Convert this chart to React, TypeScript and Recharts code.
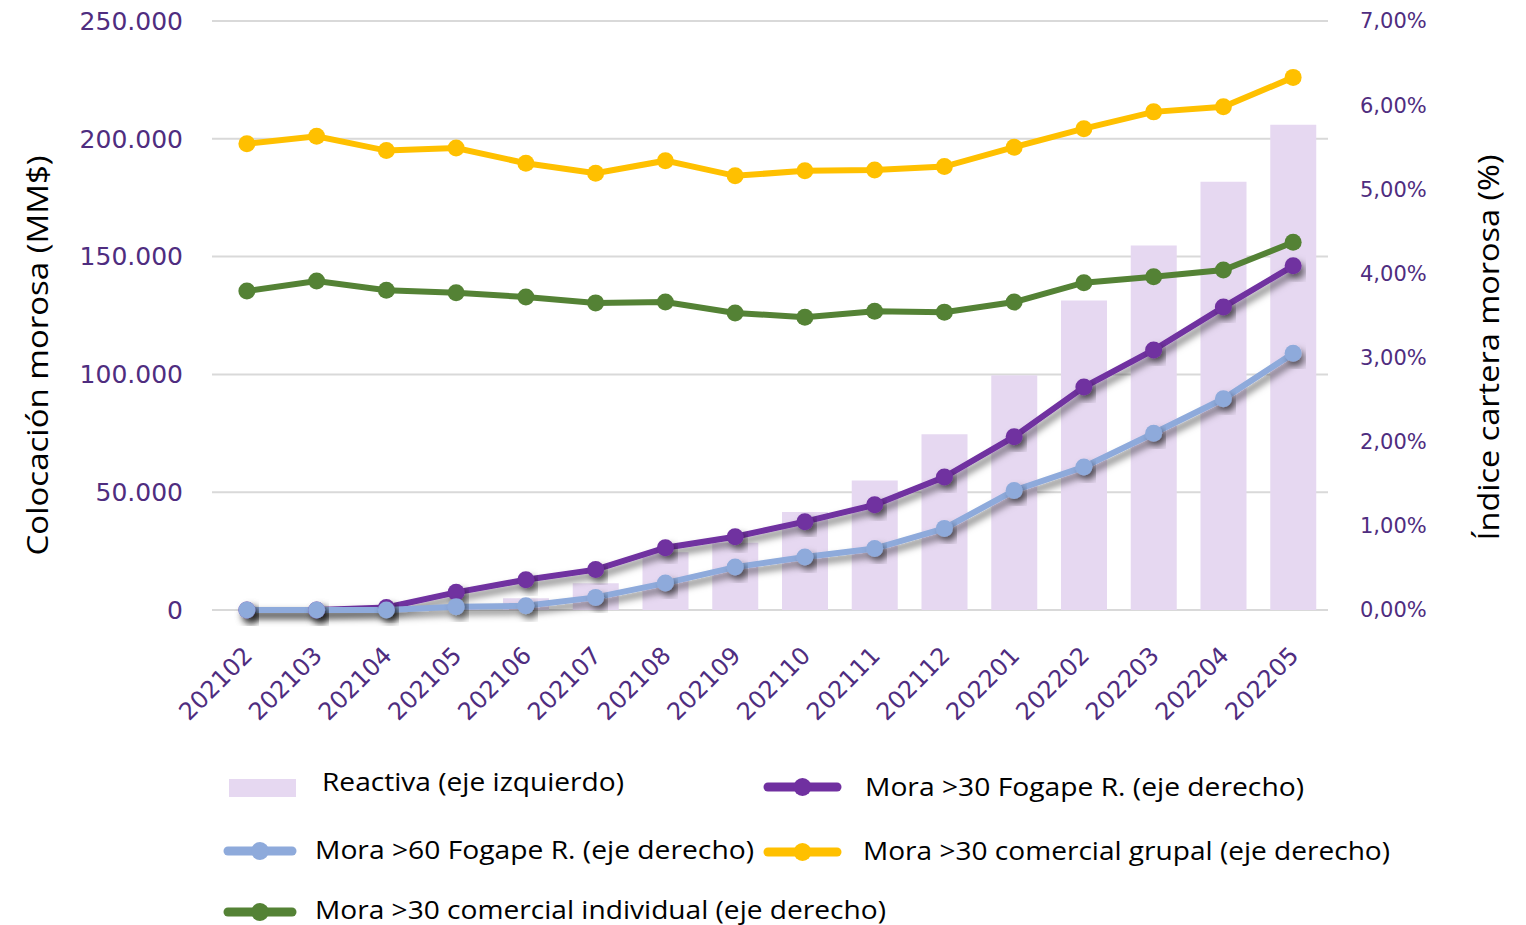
import React from 'react';
import { ComposedChart, Bar, Line, XAxis, YAxis, CartesianGrid, Legend } from 'recharts';

const categories = ['202102','202103','202104','202105','202106','202107','202108','202109','202110','202111','202112','202201','202202','202203','202204','202205'];
const reactiva = [0, 0, 0, 800, 5000, 11400, 24500, 28500, 41600, 55000, 74600, 99600, 131400, 154700, 181800, 206000];
const mora30Fogape = [0, 0, 0.03, 0.21, 0.36, 0.48, 0.74, 0.87, 1.05, 1.25, 1.58, 2.06, 2.65, 3.09, 3.60, 4.09];
const mora60Fogape = [0, 0, 0, 0.04, 0.05, 0.15, 0.32, 0.51, 0.63, 0.73, 0.97, 1.42, 1.70, 2.10, 2.51, 3.05];
const mora30Grupal = [5.54, 5.63, 5.46, 5.49, 5.31, 5.19, 5.34, 5.16, 5.22, 5.23, 5.27, 5.50, 5.72, 5.92, 5.98, 6.33];
const mora30Individual = [3.79, 3.91, 3.80, 3.77, 3.72, 3.65, 3.66, 3.53, 3.48, 3.55, 3.54, 3.66, 3.89, 3.96, 4.04, 4.37];

const leftTicks = [0, 50000, 100000, 150000, 200000, 250000];
const rightTicks = [0, 1, 2, 3, 4, 5, 6, 7];

const seriesNames = {
  reactiva: 'Reactiva (eje izquierdo)',
  m30f: 'Mora >30 Fogape R. (eje derecho)',
  m60f: 'Mora >60 Fogape R. (eje derecho)',
  m30g: 'Mora >30 comercial grupal (eje derecho)',
  m30i: 'Mora >30 comercial individual (eje derecho)',
};

const COLORS = {
  reactiva: '#E6D8F1',
  m30f: '#7030A0',
  m60f: '#8EAADB',
  m30g: '#FFC000',
  m30i: '#548235',
};

const TICK_COLOR = '#4F2D7F';

const data = categories.map((c, i) => ({
  cat: c,
  reactiva: reactiva[i],
  m30f: mora30Fogape[i],
  m60f: mora60Fogape[i],
  m30g: mora30Grupal[i],
  m30i: mora30Individual[i],
}));

const fmtLeft = (v: number) => (v === 0 ? '0' : v.toLocaleString('en-US').replace(/,/g, '.'));
const fmtRight = (v: number) => v.toFixed(2).replace('.', ',') + '%';

const XTick = (props: any) => {
  const { x, y, payload } = props;
  const ex = x + 7;
  const ey = y + 47;
  return (
    <text
      x={ex}
      y={ey}
      transform={`rotate(-45, ${ex}, ${ey})`}
      textAnchor="end"
      fill={TICK_COLOR}
      fontFamily="DejaVu Sans"
      fontSize={24}
    >
      {payload.value}
    </text>
  );
};

const LeftTitle = (props: any) => {
  const vb = props.viewBox || { x: 0, y: 0, width: 0, height: 0 };
  const cx = vb.x + 36;
  const cy = vb.y + vb.height / 2 + 40;
  return (
    <text
      x={cx}
      y={cy}
      transform={`rotate(-90, ${cx}, ${cy})`}
      textAnchor="middle"
      dominantBaseline="central"
      fontFamily="Open Sans"
      fontSize={30}
      fill="#000"
      textLength={400}
      lengthAdjust="spacingAndGlyphs"
    >
      Colocación morosa (MM$)
    </text>
  );
};

const RightTitle = (props: any) => {
  const vb = props.viewBox || { x: 0, y: 0, width: 0, height: 0 };
  const cx = vb.x + 159;
  const cy = vb.y + vb.height / 2 + 32;
  return (
    <text
      x={cx}
      y={cy}
      transform={`rotate(-90, ${cx}, ${cy})`}
      textAnchor="middle"
      dominantBaseline="central"
      fontFamily="Open Sans"
      fontSize={30}
      fill="#000"
      textLength={386}
      lengthAdjust="spacingAndGlyphs"
    >
      Índice cartera morosa (%)
    </text>
  );
};

const LegendContent = () => {
  const textProps = {
    fontFamily: 'Open Sans',
    fontSize: 25,
    fill: '#000',
    dominantBaseline: 'central' as const,
    lengthAdjust: 'spacingAndGlyphs' as const,
  };
  const lineSwatch = (x1: number, x2: number, y: number, color: string) => (
    <g>
      <line x1={x1} x2={x2} y1={y} y2={y} stroke={color} strokeWidth={9} strokeLinecap="round" />
      <circle cx={(x1 + x2) / 2} cy={y} r={9} fill={color} />
    </g>
  );
  const o = 740;
  return (
    <svg width={1526} height={185} style={{ display: 'block' }}>
      <rect x={229} y={779 - o} width={67} height={18} fill={COLORS.reactiva} />
      <text x={322} y={781 - o} {...textProps} textLength={302}>{seriesNames.reactiva}</text>

      {lineSwatch(768, 837, 787 - o, COLORS.m30f)}
      <text x={865} y={786 - o} {...textProps} textLength={439}>{seriesNames.m30f}</text>

      {lineSwatch(228, 292, 851 - o, COLORS.m60f)}
      <text x={315} y={849 - o} {...textProps} textLength={439}>{seriesNames.m60f}</text>

      {lineSwatch(768, 837, 852 - o, COLORS.m30g)}
      <text x={863} y={850 - o} {...textProps} textLength={527}>{seriesNames.m30g}</text>

      {lineSwatch(228, 292, 912 - o, COLORS.m30i)}
      <text x={315} y={909 - o} {...textProps} textLength={571}>{seriesNames.m30i}</text>
    </svg>
  );
};

export default function App() {
  return (
    <div style={{ position: 'absolute', left: 0, top: 0, width: 1526, height: 925, background: '#fff' }}>
      <ComposedChart
        width={1526}
        height={925}
        data={data}
        margin={{ top: 21, right: 0, bottom: 255, left: 0 }}
        barSize={46}
      >
        <defs>
          <filter id="shadow" x="-20%" y="-20%" width="140%" height="160%">
            <feDropShadow dx="4" dy="5" stdDeviation="3.5" floodColor="#000" floodOpacity="0.5" />
          </filter>
        </defs>
        <CartesianGrid yAxisId="left" vertical={false} stroke="#D9D9D9" strokeWidth={2} />
        <XAxis
          dataKey="cat"
          height={60}
          axisLine={false}
          tickLine={false}
          tickSize={0}
          tickMargin={0}
          interval={0}
          tick={<XTick />}
        />
        <YAxis
          yAxisId="left"
          orientation="left"
          width={212}
          domain={[0, 250000]}
          ticks={leftTicks}
          tickFormatter={fmtLeft}
          axisLine={false}
          tickLine={false}
          tickSize={0}
          tickMargin={29}
          tick={{ fill: TICK_COLOR, fontFamily: 'DejaVu Sans', fontSize: 25 }}
          label={<LeftTitle />}
        />
        <YAxis
          yAxisId="right"
          orientation="right"
          width={198}
          domain={[0, 7]}
          ticks={rightTicks}
          tickFormatter={fmtRight}
          axisLine={false}
          tickLine={false}
          tickSize={0}
          tickMargin={32}
          tick={{ fill: TICK_COLOR, fontFamily: 'DejaVu Sans', fontSize: 21 }}
          label={<RightTitle />}
        />
        <Legend
          layout="horizontal"
          verticalAlign="middle"
          align="center"
          wrapperStyle={{ position: 'absolute', left: 0, top: 740, width: 1526, height: 185 }}
          content={<LegendContent />}
        />
        <Bar yAxisId="left" dataKey="reactiva" name={seriesNames.reactiva} fill={COLORS.reactiva} isAnimationActive={false} />
        <Line
          yAxisId="right"
          dataKey="m30f"
          name={seriesNames.m30f}
          stroke={COLORS.m30f}
          strokeWidth={6}
          filter="url(#shadow)"
          dot={{ r: 8.5, fill: COLORS.m30f, stroke: COLORS.m30f, strokeWidth: 0, filter: 'url(#shadow)' }}
          isAnimationActive={false}
        />
        <Line
          yAxisId="right"
          dataKey="m60f"
          name={seriesNames.m60f}
          stroke={COLORS.m60f}
          strokeWidth={6}
          filter="url(#shadow)"
          dot={{ r: 8.5, fill: COLORS.m60f, stroke: COLORS.m60f, strokeWidth: 0, filter: 'url(#shadow)' }}
          isAnimationActive={false}
        />
        <Line
          yAxisId="right"
          dataKey="m30g"
          name={seriesNames.m30g}
          stroke={COLORS.m30g}
          strokeWidth={6}
          dot={{ r: 8.5, fill: COLORS.m30g, stroke: COLORS.m30g, strokeWidth: 0 }}
          isAnimationActive={false}
        />
        <Line
          yAxisId="right"
          dataKey="m30i"
          name={seriesNames.m30i}
          stroke={COLORS.m30i}
          strokeWidth={6}
          dot={{ r: 8.5, fill: COLORS.m30i, stroke: COLORS.m30i, strokeWidth: 0 }}
          isAnimationActive={false}
        />
      </ComposedChart>
    </div>
  );
}
